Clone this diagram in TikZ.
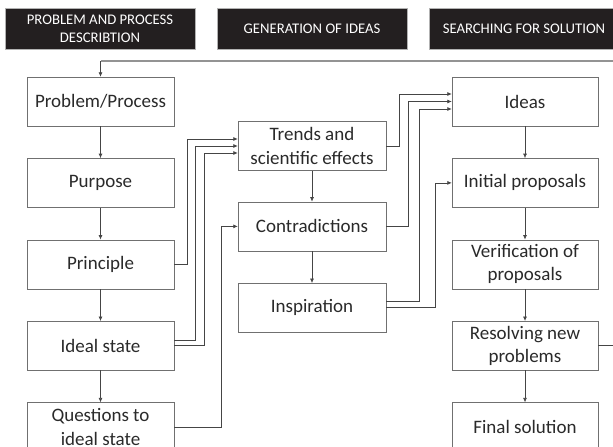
\documentclass[tikz,border=0pt]{standalone}
\usepackage{fontspec}
\setmainfont{Carlito}
\usetikzlibrary{arrows.meta, positioning}

\definecolor{hdrfill}{HTML}{231F20}
\definecolor{boxline}{HTML}{707070}
\definecolor{wirecol}{HTML}{454545}
\definecolor{txt}{HTML}{2A2A2A}

\begin{document}
\begin{tikzpicture}[
  x=1pt, y=-1pt,
  header/.style={draw=gray!60, fill=hdrfill, text=white, minimum width=190pt,
                 minimum height=41pt, align=center,
                 font=\fontsize{14.7}{17.9}\selectfont},
  box/.style={draw=boxline, fill=white, minimum width=147pt, minimum height=49pt,
              inner sep=2pt, align=center, text=txt,
              font=\fontsize{19}{23.3}\selectfont},
  arr/.style={-{Latex[length=4.5pt, width=4pt]}, wirecol, line width=0.7pt},
  plain/.style={wirecol, line width=0.7pt},
  feedback/.style={draw=gray!85, line width=1.5pt}
]
\useasboundingbox (0,0) rectangle (613,447);

%
%  Layout (px grid, y down):
%
%  headers :  [DESCRIPTION]      [GENERATION]        [SEARCHING]
%  col x   :   100.5              312                 525
%  rows    :   101 / 182 / 263 / 344 / 425  (step 81, box height 49)
%

% --- headers ---
\node[header] (hdr_desc) at (100, 28.5) {PROBLEM AND PROCESS\\DESCRIBTION};
\node[header] (hdr_gen)  at (312, 28.5) {GENERATION OF IDEAS};
\node[header] (hdr_sol)  at (524, 28.5) {SEARCHING FOR SOLUTION};

% --- problem and process description ---
\node[box] (problem) at (100.5, 101.5) {Problem/Process};
\node[box, below=32pt of problem]   (purpose)   {Purpose};
\node[box, below=32pt of purpose]   (principle) {Principle};
\node[box, below=32pt of principle] (ideal)     {Ideal state};
\node[box, below=32pt of ideal]     (questions) {Questions to\\ideal state};

% --- generation of ideas ---
\node[box, minimum width=148pt] (trends) at (312, 146) {Trends and\\scientific effects};
\node[box, minimum width=148pt, below=31pt of trends] (contra) {Contradictions};
\node[box, minimum width=148pt, below=32pt of contra] (inspir) {Inspiration};

% --- searching for solution ---
\node[box, minimum width=146pt] (ideas) at (525, 101.5) {Ideas};
\node[box, minimum width=146pt, below=32pt of ideas]   (initial) {Initial proposals};
\node[box, minimum width=146pt, below=32pt of initial] (verify)  {Verification of\\proposals};
\node[box, minimum width=146pt, below=32pt of verify]  (resolve) {Resolving new\\problems};
\node[box, minimum width=146pt, below=32pt of resolve] (final)   {Final solution};

% ---- Connections ----

% columns, top to bottom
\draw[arr] (problem)   -- (purpose);
\draw[arr] (purpose)   -- (principle);
\draw[arr] (principle) -- (ideal);
\draw[arr] (ideal)     -- (questions);
\draw[arr] (trends)    -- (contra);
\draw[arr] (contra)    -- (inspir);
\draw[arr] (ideas)     -- (initial);
\draw[arr] (initial)   -- (verify);
\draw[arr] (verify)    -- (resolve);
\draw[arr] (resolve)   -- (final);

% description -> trends (three wires)
\draw[arr] (principle.east) -- ++(13,0) |- ([yshift=7pt]trends.west);
\draw[arr] ([yshift=5pt]ideal.east) -- ++(21,0) |- (trends.west);
\draw[arr] (ideal.east) -- ++(30,0) |- ([yshift=-7pt]trends.west);

% questions -> contradictions
\draw[arr] (questions.east) -- ++(47,0) |- (contra.west);

% generation -> ideas
\draw[arr] (trends.east) -- ++(13,0) |- ([yshift=7.5pt]ideas.west);
\draw[arr] (contra.east) -- ++(22,0) |- (ideas.west);
\draw[arr] ([yshift=6pt]inspir.east) -- ++(33,0) |- ([yshift=-7.5pt]ideas.west);

% inspiration -> initial proposals
\draw[arr] (inspir.east) -- ++(49,0) |- (initial.west);

% new problems go back to the start
\coordinate (loop_ne) at (622, 61);
\coordinate (loop_nw) at (100.5, 61);
\draw[plain] (resolve.east) -| (loop_ne);
\draw[feedback] (loop_ne) -- (loop_nw);
\draw[arr] (loop_nw) -- (problem.north);

\end{tikzpicture}
\end{document}
